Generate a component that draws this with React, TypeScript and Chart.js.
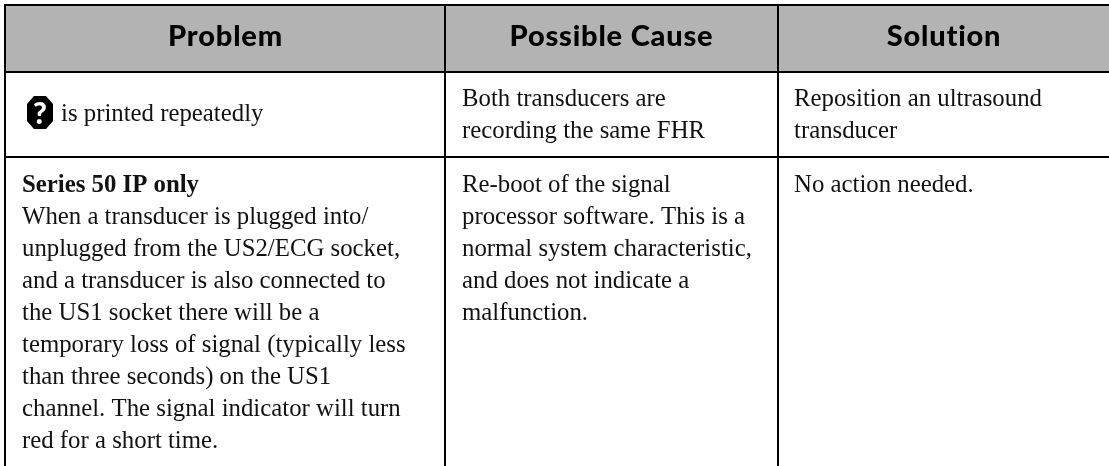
import React, { useEffect, useRef } from "react";
import { Chart, registerables } from "chart.js";
Chart.register(...registerables);

const headers = ["Problem", "Possible Cause", "Solution"];
const row1Col1 = ["is printed repeatedly"];
const row1Col2 = ["Both transducers are", "recording the same FHR"];
const row1Col3 = ["Reposition an ultrasound", "transducer"];
const row2Heading = "Series 50 IP only";
const row2Col1 = ["When a transducer is plugged into/", "unplugged from the US2/ECG socket,", "and a transducer is also connected to", "the US1 socket there will be a", "temporary loss of signal (typically less", "than three seconds) on the US1", "channel. The signal indicator will turn", "red for a short time."];
const row2Col2 = ["Re-boot of the signal", "processor software. This is a", "normal system characteristic,", "and does not indicate a", "malfunction."];
const row2Col3 = ["No action needed."];

const W = 1109, H = 466;
const SERIF = '"Liberation Serif", serif';
const SANS = 'Lato, sans-serif';

const tablePlugin = {
  id: "table",
  afterDraw(chart: any) {
    const c = chart.ctx as CanvasRenderingContext2D;
    c.save();
    c.fillStyle = "#fff"; c.fillRect(0, 0, W, H);
    c.fillStyle = "#b3b3b3"; c.fillRect(5, 5, W - 5, 67);
    c.fillStyle = "#000";
    c.fillRect(4, 4, W - 4, 2);
    c.fillRect(4, 71, W - 4, 2);
    c.fillRect(4, 156, W - 4, 2);
    c.fillRect(4, 4, 2, H);
    c.fillRect(444, 4, 2, H);
    c.fillRect(777, 4, 2, H);
    c.font = `900 29px ${SANS}`;
    (c as any).letterSpacing = "0.8px";
    c.textBaseline = "alphabetic";
    c.textAlign = "center";
    c.fillText(headers[0], 225.5, 46);
    c.fillText(headers[1], 611.5, 46);
    c.fillText(headers[2], 944, 46);
    (c as any).letterSpacing = "0px";
    c.textAlign = "left";
    c.fillStyle = "#111";
    const body = `24.8px ${SERIF}`;
    c.font = body;
    const lh = 32;
    const block = (x: number, y: number, lines: string[]) => lines.forEach((l, i) => c.fillText(l, x, y + i * lh));
    c.fillText(row1Col1[0], 61, 121);
    block(462, 106, row1Col2);
    block(794, 106, row1Col3);
    c.font = `bold 24.8px ${SERIF}`;
    c.fillText(row2Heading, 22, 192);
    c.font = body;
    block(22, 224, row2Col1);
    block(462, 192, row2Col2);
    block(794, 192, row2Col3);
    // question-mark octagon icon
    c.fillStyle = "#000";
    c.beginPath();
    [[34,96],[46,96],[53,104],[53,121],[46,129],[34,129],[27,121],[27,104]].forEach(([x,y],i)=> i? c.lineTo(x,y): c.moveTo(x,y));
    c.closePath(); c.fill();
    c.fillStyle = "#fff"; c.font = `900 30px ${SANS}`; c.textAlign = "center";
    c.fillText("?", 40, 124);
    c.restore();
  },
};

export default function App() {
  const ref = useRef<HTMLCanvasElement>(null);
  useEffect(() => {
    document.body.style.margin = "0";
    const chart = new Chart(ref.current!, {
      type: "bar",
      data: { labels: headers, datasets: [{ data: [] }] },
      options: {
        animation: false, responsive: false,
        plugins: { legend: { display: false }, tooltip: { enabled: false } },
        scales: { x: { display: false }, y: { display: false } },
      },
      plugins: [tablePlugin],
    });
    return () => chart.destroy();
  }, []);
  return <canvas ref={ref} width={W} height={H} style={{ display: "block" }} />;
}
